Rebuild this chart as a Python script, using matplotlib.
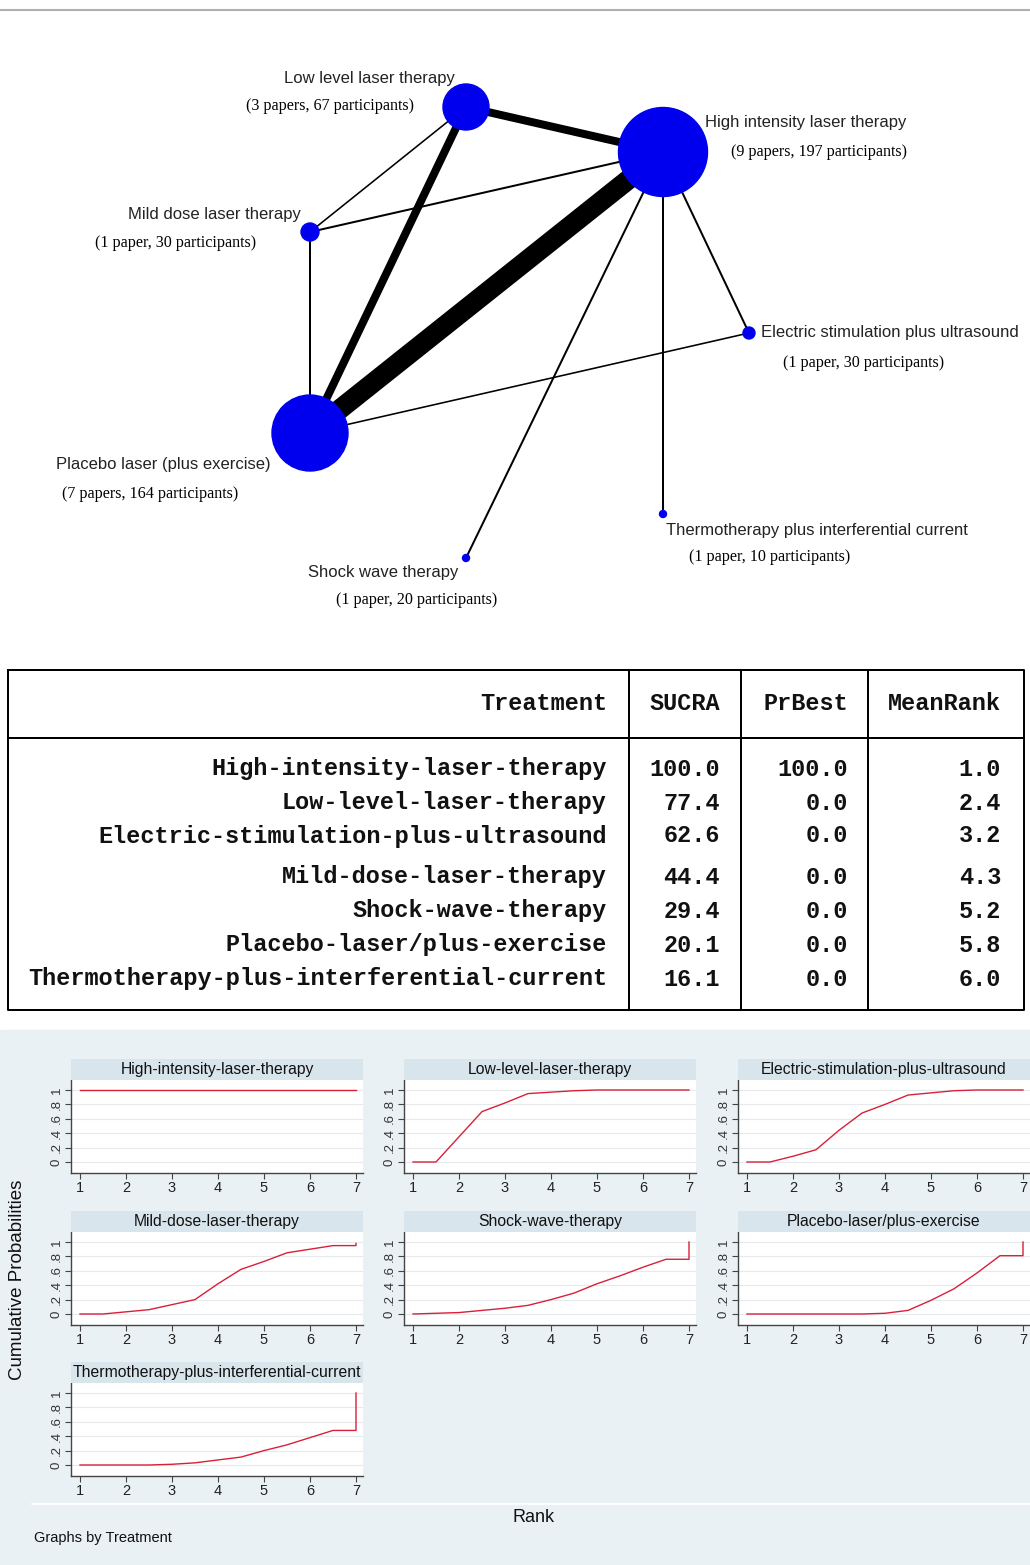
import numpy as np
import matplotlib
matplotlib.use("Agg")
import matplotlib.pyplot as plt
from matplotlib.patches import Circle

W, H = 1030, 1565

# ---- network data ----
nodes = ["Low level laser therapy", "High intensity laser therapy", "Mild dose laser therapy",
         "Electric stimulation plus ultrasound", "Placebo laser (plus exercise)",
         "Thermotherapy plus interferential current", "Shock wave therapy"]
node_info = ["(3 papers, 67 participants)", "(9 papers, 197 participants)", "(1 paper, 30 participants)",
             "(1 paper, 30 participants)", "(7 papers, 164 participants)", "(1 paper, 10 participants)",
             "(1 paper, 20 participants)"]
node_x = [466, 663, 310, 749, 310, 663, 466]
node_y = [107, 152, 232, 333, 433, 514, 558]
node_size = [23, 44.5, 9, 6, 38, 3.5, 3.5]
edges = [(0, 1), (0, 2), (0, 4), (1, 2), (1, 4), (1, 3), (1, 5), (1, 6), (2, 4), (3, 4)]
edge_weight = [4, 0.8, 4, 1, 10, 1, 1, 1, 1, 0.8]

# label anchors (left x, centre y) for name and info lines
name_pos = [(284, 78), (705, 122), (128, 215), (761, 333), (56, 464), (666, 530), (308, 572)]
info_pos = [(246, 106), (731, 152), (95, 243), (783, 363), (62, 494), (689, 557), (336, 600)]

# ---- table data ----
treat_tab = ["High-intensity-laser-therapy", "Low-level-laser-therapy",
             "Electric-stimulation-plus-ultrasound", "Mild-dose-laser-therapy",
             "Shock-wave-therapy", "Placebo-laser/plus-exercise",
             "Thermotherapy-plus-interferential-current"]
sucra = [100.0, 77.4, 62.6, 44.4, 29.4, 20.1, 16.1]
prbest = [100.0, 0.0, 0.0, 0.0, 0.0, 0.0, 0.0]
meanrank = [1.0, 2.4, 3.2, 4.3, 5.2, 5.8, 6.0]
row_y = [769, 803, 836, 877, 911, 945, 979]

# ---- cumulative ranking curves ----
rank_x = [1, 1.5, 2, 2.5, 3, 3.5, 4, 4.5, 5, 5.5, 6, 6.5, 7, 7]
cum = {
    "High-intensity-laser-therapy":   [1, 1, 1, 1, 1, 1, 1, 1, 1, 1, 1, 1, 1, 1],
    "Low-level-laser-therapy":        [0, 0, 0.35, 0.70, 0.82, 0.95, 0.97, 0.99, 1, 1, 1, 1, 1, 1],
    "Electric-stimulation-plus-ultrasound": [0, 0, 0.08, 0.17, 0.44, 0.68, 0.80, 0.93, 0.96, 0.99, 1, 1, 1, 1],
    "Mild-dose-laser-therapy":        [0, 0, 0.03, 0.06, 0.13, 0.20, 0.42, 0.62, 0.73, 0.85, 0.90, 0.95, 0.95, 0.98],
    "Shock-wave-therapy":             [0, 0.01, 0.02, 0.05, 0.08, 0.12, 0.20, 0.29, 0.42, 0.53, 0.65, 0.76, 0.76, 1],
    "Placebo-laser/plus-exercise":    [0, 0, 0, 0, 0, 0, 0.01, 0.05, 0.19, 0.35, 0.57, 0.81, 0.81, 1],
    "Thermotherapy-plus-interferential-current": [0, 0, 0, 0, 0.01, 0.03, 0.07, 0.11, 0.20, 0.28, 0.38, 0.48, 0.48, 1],
}

fig = plt.figure(figsize=(W / 100, H / 100), dpi=100)
fig.patch.set_facecolor("white")

# overlay axes in pixel coordinates
ov = fig.add_axes([0, 0, 1, 1])
ov.set_xlim(0, W)
ov.set_ylim(H, 0)
ov.axis("off")

px = 0.72  # points per pixel at 100 dpi

# bottom panel background
ov.add_patch(plt.Rectangle((0, 1030), W, H - 1030, color="#eaf1f4", zorder=0))
ov.plot([32, W], [1504, 1504], color="white", lw=1.2, zorder=1)

# top grey rule
ov.plot([0, W], [10, 10], color="#b0b0b0", lw=1.5)

# network edges
for (a, b), w in zip(edges, edge_weight):
    ov.plot([node_x[a], node_x[b]], [node_y[a], node_y[b]], color="black",
            lw=2 * w * px, solid_capstyle="butt", zorder=2)
for i in range(len(nodes)):
    ov.add_patch(Circle((node_x[i], node_y[i]), node_size[i], color="#0000ee", zorder=3))
    ov.text(name_pos[i][0], name_pos[i][1], nodes[i], fontsize=12, family="Liberation Sans",
            color="#222222", ha="left", va="center")
    ov.text(info_pos[i][0], info_pos[i][1], node_info[i], fontsize=11.6, family="Liberation Serif",
            color="black", ha="left", va="center")

# table frame
lw_t = 2 * px
ov.plot([8, 1024, 1024, 8, 8], [670, 670, 1010, 1010, 670], color="black", lw=lw_t)
ov.plot([8, 1024], [738, 738], color="black", lw=lw_t)
for xv in [629, 741, 868]:
    ov.plot([xv, xv], [670, 1010], color="black", lw=lw_t)

tf = dict(family="Liberation Mono", fontweight="bold", fontsize=16.9, color="#111111", va="center")
ov.text(607, 704, "Treatment", ha="right", **tf)
ov.text(720, 704, "SUCRA", ha="right", **tf)
ov.text(848, 704, "PrBest", ha="right", **tf)
ov.text(1001, 704, "MeanRank", ha="right", **tf)
for i in range(len(treat_tab)):
    ov.text(607, row_y[i], treat_tab[i], ha="right", **tf)
    ov.text(720, row_y[i], f"{sucra[i]:.1f}", ha="right", **tf)
    ov.text(848, row_y[i], f"{prbest[i]:.1f}", ha="right", **tf)
    ov.text(1001, row_y[i], f"{meanrank[i]:.1f}", ha="right", **tf)

# panel grid
col_left = [71, 404, 738]
panel_w = 292
row_top = [1080, 1232, 1383]
panel_h = 93
strip_h = 21

def fig_rect(x, y, w, h):
    return [x / W, 1 - (y + h) / H, w / W, h / H]

names = list(cum.keys())
for k, name in enumerate(names):
    r, c = divmod(k, 3)
    x0, y0 = col_left[c], row_top[r]
    ax = fig.add_axes(fig_rect(x0, y0, panel_w, panel_h))
    ax.set_facecolor("white")
    ax.plot(rank_x, cum[name], color="#d8203a", lw=1.0)
    ax.set_xlim(1 - 9 / 46, 7 + 7 / 46)
    ax.set_ylim(-11 / 72, 1 + 10 / 72)
    ax.set_yticks([0, 0.2, 0.4, 0.6, 0.8, 1])
    ax.set_yticklabels(["0", ".2", ".4", ".6", ".8", "1"], rotation=90, va="center",
                       fontsize=9.5, family="Liberation Sans", color="#333333")
    ax.set_xticks(range(1, 8))
    ax.set_xticklabels([str(v) for v in range(1, 8)], fontsize=10.5, family="Liberation Sans",
                       color="#222222")
    ax.grid(axis="y", color="#e6eaec", lw=0.8)
    ax.set_axisbelow(True)
    for s in ["top", "right"]:
        ax.spines[s].set_visible(False)
    for s in ["left", "bottom"]:
        ax.spines[s].set_color("#444444")
        ax.spines[s].set_linewidth(1.0)
    ax.tick_params(length=4, width=0.8, color="#444444", pad=2)
    # title strip
    st = fig.add_axes(fig_rect(x0, y0 - strip_h, panel_w, strip_h))
    st.set_facecolor("#d9e5ec")
    st.set_xticks([]); st.set_yticks([])
    for s in st.spines.values():
        s.set_visible(False)
    st.text(0.5, 0.5, name, ha="center", va="center", fontsize=11.3,
            family="Liberation Sans", color="#111111", transform=st.transAxes)

ov.text(18, 1280, "Cumulative Probabilities", rotation=90, ha="center", va="center",
        fontsize=13.5, family="Liberation Sans", color="#111111", zorder=5)
ov.text(534, 1517, "Rank", ha="center", va="center", fontsize=13,
        family="Liberation Sans", color="#111111", zorder=5)
ov.text(34, 1538, "Graphs by Treatment", ha="left", va="center", fontsize=10.5,
        family="Liberation Sans", color="#111111", zorder=5)

fig.savefig("out.png", dpi=100, facecolor=fig.get_facecolor())
